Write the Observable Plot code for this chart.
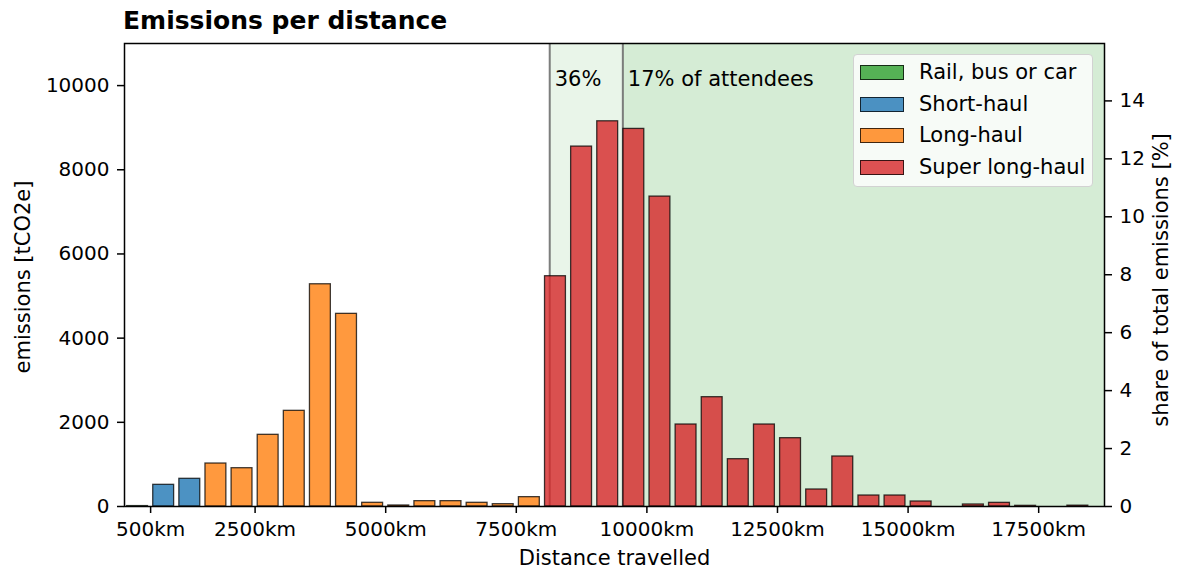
<!DOCTYPE html>
<html>
<head>
<meta charset="utf-8">
<script src="https://cdn.jsdelivr.net/npm/d3@7"></script>
<script src="https://cdn.jsdelivr.net/npm/@observablehq/plot@0.6"></script>
<style>
  body { margin: 0; background: #fff; font-family: "DejaVu Sans", sans-serif; }
  #wrap { position: relative; width: 1178px; height: 568px; overflow: hidden; }
  #title { height: 39px; box-sizing: border-box; padding-top: 3px; line-height: 36px; padding-left: 123px;
           font-weight: bold; font-size: 25px; color: #000; white-space: nowrap; }
  .legend { position: absolute; left: 853px; top: 54px; width: 240px; height: 133px; box-sizing: border-box;
            background: rgba(255,255,255,0.8); border: 1px solid #d2d2d2; border-radius: 4px; }
  .legend .row { position: absolute; left: 0; height: 20px; width: 100%; }
  .legend .sw { position: absolute; left: 6px; top: 2px; width: 44px; height: 15px; box-sizing: border-box;
                border: 1.3px solid rgba(0,0,0,0.75); }
  .legend .lab { position: absolute; left: 65px; top: -3px; font-size: 21px; line-height: 25px; color: #000; white-space: nowrap; }
</style>
</head>
<body>
<div id="wrap">
  <div id="title">Emissions per distance</div>
  <div id="chart"></div>
</div>
<script>
// ---- data ----
const distanceKm = [250, 750, 1250, 1750, 2250, 2750, 3250, 3750, 4250, 4750, 5250, 5750, 6250, 6750, 7250, 7750,
  8250, 8750, 9250, 9750, 10250, 10750, 11250, 11750, 12250, 12750, 13250, 13750, 14250, 14750, 15250, 15750,
  16250, 16750, 17250, 17750, 18250];
const emissions = [10, 515, 658, 1021, 910, 1703, 2273, 5280, 4577, 88, 24, 127, 127, 88, 55, 222,
  5471, 8551, 9152, 8971, 7363, 1948, 2597, 1124, 1948, 1623, 404, 1188, 261, 261, 119, 0,
  48, 87, 16, 0, 20];
const mode = ["Rail, bus or car", "Short-haul", "Short-haul",
  "Long-haul", "Long-haul", "Long-haul", "Long-haul", "Long-haul", "Long-haul", "Long-haul", "Long-haul",
  "Long-haul", "Long-haul", "Long-haul", "Long-haul", "Long-haul",
  "Super long-haul", "Super long-haul", "Super long-haul", "Super long-haul", "Super long-haul", "Super long-haul",
  "Super long-haul", "Super long-haul", "Super long-haul", "Super long-haul", "Super long-haul", "Super long-haul",
  "Super long-haul", "Super long-haul", "Super long-haul", "Super long-haul", "Super long-haul", "Super long-haul",
  "Super long-haul", "Super long-haul", "Super long-haul"];
const modes = ["Rail, bus or car", "Short-haul", "Long-haul", "Super long-haul"];
const modeColors = ["#2ca02c", "#1f77b4", "#ff7f0e", "#d62728"];
const thresholdsKm = [8140, 9540];
const thresholdLabels = ["36%", "17% of attendees"];
const xTicks = [500, 2500, 5000, 7500, 10000, 12500, 15000, 17500];
const yTicks = [0, 2000, 4000, 6000, 8000, 10000];
const shareTicks = [0, 2, 4, 6, 8, 10, 12, 14];
const xDomain = [0, 18760];
const yDomain = [0, 11000];

const binWidthKm = 400;
const bars = distanceKm.map((d, i) => ({km: d, emissions: emissions[i], mode: mode[i]}));
const total = d3.sum(emissions);
const spans = thresholdsKm.map((t, i) => ({km: t, label: thresholdLabels[i]}));

const chart = Plot.plot({
  width: 1178,
  height: 529,
  marginTop: 4,
  marginBottom: 62,
  marginLeft: 124,
  marginRight: 74,
  style: {fontFamily: "DejaVu Sans", fontSize: "20px", color: "#000", background: "#fff", overflow: "visible"},
  x: {type: "linear", domain: xDomain},
  y: {domain: yDomain},
  color: {domain: modes, range: modeColors},
  marks: [
    Plot.rect(spans, {x1: "km", x2: () => xDomain[1], fill: "#2ca02c", fillOpacity: 0.1}),
    Plot.ruleX(spans, {x: "km", stroke: "#707070", strokeWidth: 2, strokeOpacity: 0.9}),
    Plot.rectY(bars, {
      x1: d => d.km - binWidthKm / 2, x2: d => d.km + binWidthKm / 2, y: "emissions",
      fill: "mode", fillOpacity: 0.8, stroke: "#000", strokeOpacity: 0.75, strokeWidth: 1.3
    }),
    Plot.text(spans, {x: "km", text: "label", frameAnchor: "top", lineAnchor: "bottom", textAnchor: "start",
      dx: 5, dy: 42, fill: "#000", fontSize: 21}),
    Plot.frame({stroke: "#000", strokeWidth: 1.5}),
    Plot.axisX(xTicks, {tickFormat: d => `${d}km`, tickSize: 7, tickPadding: 8, strokeWidth: 1.5, label: null, fontSize: 20}),
    Plot.axisY(yTicks, {anchor: "left", tickSize: 7, tickPadding: 8, strokeWidth: 1.5, label: null, tickFormat: d => String(d), fontSize: 20}),
    Plot.axisY(shareTicks.map(s => s * total / 100), {anchor: "right", tickSize: 7, tickPadding: 8, strokeWidth: 1.5,
      label: null, tickFormat: d => String(Math.round(d / total * 100)), fontSize: 20}),
    Plot.text(["Distance travelled"], {frameAnchor: "bottom", lineAnchor: "bottom", textAnchor: "middle", dy: 58, fontSize: 21, fill: "#000"}),
    Plot.text(["emissions [tCO2e]"], {frameAnchor: "left", rotate: -90, textAnchor: "middle", lineAnchor: "middle", dx: -101, dy: 2, fontSize: 21, fill: "#000"}),
    Plot.text(["share of total emissions [%]"], {frameAnchor: "right", rotate: -90, textAnchor: "middle", lineAnchor: "middle", dx: 57, dy: 5, fontSize: 21, fill: "#000"})
  ]
});
document.getElementById("chart").appendChild(chart);

// legend
const legend = d3.select("#wrap").append("div").attr("class", "legend");
modes.forEach((m, i) => {
  const row = legend.append("div").attr("class", "row").style("top", `${8 + i * 31.5}px`);
  const c = d3.color(modeColors[i]); c.opacity = 0.8;
  row.append("div").attr("class", "sw").style("background", c.formatRgb());
  row.append("div").attr("class", "lab").text(m);
});
</script>
</body>
</html>
